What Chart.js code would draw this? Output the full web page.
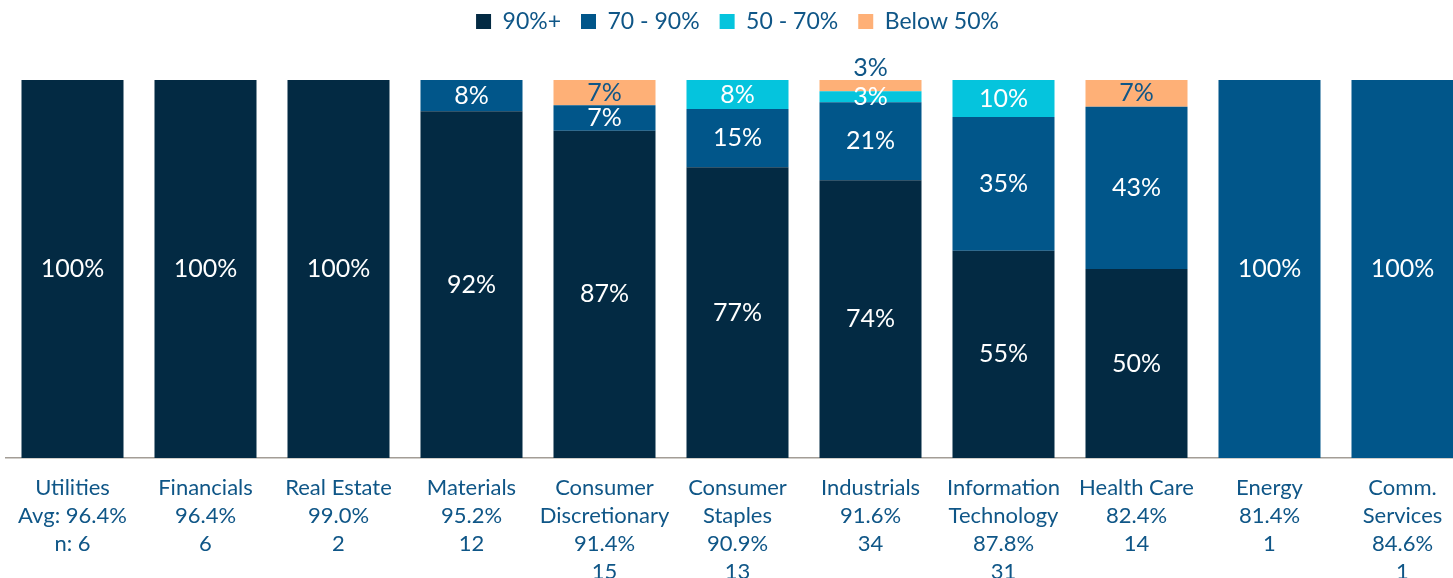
<!DOCTYPE html>
<html>
<head>
<meta charset="utf-8">
<script src="https://cdn.jsdelivr.net/npm/chart.js@4"></script>
<style>
  html, body { margin: 0; padding: 0; background: #fff; overflow: hidden; }
  #wrap { width: 1486px; height: 594px; }
</style>
</head>
<body>
<div id="wrap"><canvas id="sectorChart" width="1486" height="594"></canvas></div>
<script>
// Sector labels (name lines, average, count)
const categories = [
    ["Utilities", "Avg: 96.4%", "n: 6"],
    ["Financials", "96.4%", "6"],
    ["Real Estate", "99.0%", "2"],
    ["Materials", "95.2%", "12"],
    ["Consumer", "Discretionary", "91.4%", "15"],
    ["Consumer", "Staples", "90.9%", "13"],
    ["Industrials", "91.6%", "34"],
    ["Information", "Technology", "87.8%", "31"],
    ["Health Care", "82.4%", "14"],
    ["Energy", "81.4%", "1"],
    ["Comm.", "Services", "84.6%", "1"]
];

const above90 = [100, 100, 100, 91.7, 86.6, 76.9, 73.5, 54.8, 50, 0, 0];
const from70to90 = [0, 0, 0, 8.3, 6.7, 15.4, 20.6, 35.4, 42.9, 100, 100];
const from50to70 = [0, 0, 0, 0, 0, 7.7, 2.9, 9.8, 0, 0, 0];
const below50 = [0, 0, 0, 0, 6.7, 0, 3.0, 0, 7.1, 0, 0];

const textBlue = "#0f5687";
const font = "Lato";

// draws the % inside each segment
const segmentLabels = {
    id: "segmentLabels",
    afterDatasetsDraw(chart) {
        const ctx = chart.ctx;
        ctx.save();
        ctx.font = "25px " + font;
        ctx.textAlign = "center";
        ctx.textBaseline = "middle";
        const last = chart.data.datasets.length - 1;
        chart.data.datasets.forEach((ds, di) => {
            const meta = chart.getDatasetMeta(di);
            meta.data.forEach((bar, i) => {
                const v = ds.data[i];
                if (!v) return;
                const h = bar.base - bar.y;
                let y = bar.y + h / 2;
                if (h < 14 && di === last) y = bar.y - 12;
                ctx.fillStyle = ds.labelColor;
                ctx.fillText(Math.round(v) + "%", bar.x, y);
            });
        });
        ctx.restore();
    }
};

// extra room under the legend
const legendGap = {
    id: "legendGap",
    beforeInit(chart) {
        const fit = chart.legend.fit;
        chart.legend.fit = function() {
            fit.bind(chart.legend)();
            this.height += 37;
        };
    }
};

const ctx = document.getElementById("sectorChart").getContext("2d");
new Chart(ctx, {
    type: "bar",
    data: {
        labels: categories,
        datasets: [
            { label: "90%+", data: above90, backgroundColor: "#032a43", labelColor: "#ffffff" },
            { label: "70 - 90%", data: from70to90, backgroundColor: "#01568a", labelColor: "#ffffff" },
            { label: "50 - 70%", data: from50to70, backgroundColor: "#05c4dd", labelColor: "#ffffff" },
            { label: "Below 50%", data: below50, backgroundColor: "#feb077", labelColor: textBlue }
        ]
    },
    options: {
        responsive: false,
        animation: false,
        layout: { padding: { left: 6, right: 17, top: -10, bottom: 0 } },
        datasets: {
            bar: {
                categoryPercentage: 1,
                barPercentage: 0.767,
                borderWidth: 0
            }
        },
        plugins: {
            legend: {
                position: "top",
                labels: {
                    color: textBlue,
                    font: { family: font, size: 23 },
                    boxWidth: 15,
                    boxHeight: 15,
                    padding: 20
                }
            },
            tooltip: { enabled: false }
        },
        scales: {
            x: {
                stacked: true,
                grid: { display: false },
                border: { color: "#a39d96", width: 1.5 },
                ticks: {
                    color: textBlue,
                    font: { family: font, size: 22, lineHeight: 1.273 },
                    padding: 8,
                    maxRotation: 0,
                    autoSkip: false
                }
            },
            y: {
                stacked: true,
                display: false,
                min: 0,
                max: 100
            }
        }
    },
    plugins: [segmentLabels, legendGap]
});
</script>
</body>
</html>
